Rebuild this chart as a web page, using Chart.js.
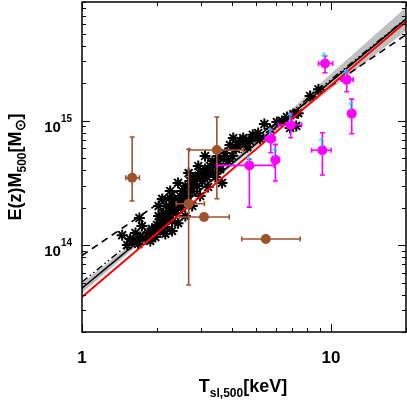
<!DOCTYPE html>
<html>
<head>
<meta charset="utf-8">
<script src="https://cdn.jsdelivr.net/npm/chart.js@4"></script>
<style>
  body { margin: 0; background: #fff; }
  #wrap { width: 407px; height: 407px; }
</style>
</head>
<body>
<div id="wrap"><canvas id="mtChart" width="407" height="407"></canvas></div>
<script>
// --- data ---
// simulated clusters (black asterisks): T [keV], E(z)M500 [Msun]
const starT = [1.52, 1.61, 1.68, 1.71, 1.80, 1.845, 1.88, 1.91, 1.97, 2.00, 2.06, 2.03, 2.10, 2.12, 2.16, 2.18, 2.22, 2.26, 2.30, 2.30,
               2.35, 2.39, 2.43, 2.48, 2.53, 2.55, 2.60, 2.65, 2.72, 2.77, 2.85, 2.90, 2.98, 3.04, 3.12, 3.18, 3.27, 3.34, 3.37, 3.43,
               3.53, 3.59, 3.65, 3.76, 3.86, 3.93, 4.01, 4.16, 4.32, 4.44, 4.61, 4.73, 4.92, 5.10, 5.40, 5.69, 6.06, 6.36, 6.65, 7.06,
               7.38, 7.25, 8.90, 8.24, 1.45, 1.70, 2.16, 2.30, 2.43, 2.60, 2.77, 2.98, 3.21, 3.43, 2.03, 2.10, 2.26, 2.43, 2.68, 2.93,
               3.12, 1.74, 1.64, 1.56, 6.85, 5.19, 4.05,
               1.95, 2.08, 2.20, 2.33, 2.45, 2.58, 2.70, 2.82, 3.00, 3.25, 3.50, 3.70, 4.20, 4.55, 4.85, 2.25, 2.50, 2.62];
const starM = [1.00e14, 1.08e14, 1.02e14, 1.16e14, 1.12e14, 1.25e14, 1.08e14, 1.35e14, 1.16e14, 1.45e14, 1.30e14, 1.71e14, 1.56e14, 1.81e14, 1.40e14, 2.06e14, 1.68e14, 1.88e14, 1.56e14, 2.14e14,
               2.35e14, 1.81e14, 2.06e14, 2.48e14, 2.72e14, 2.26e14, 2.98e14, 2.48e14, 3.27e14, 2.72e14, 3.52e14, 2.98e14, 3.79e14, 3.27e14, 4.08e14, 3.52e14, 4.32e14, 4.74e14, 3.79e14, 4.57e14,
               5.20e14, 4.08e14, 3.16e14, 5.50e14, 4.74e14, 6.37e14, 5.20e14, 5.92e14, 6.87e14, 7.26e14, 6.14e14, 6.87e14, 7.40e14, 7.96e14, 9.40e14, 8.57e14, 9.76e14, 9.95e14, 1.07e15, 1.13e15,
               1.15e15, 9.07e14, 1.79e15, 1.58e15, 1.20e14, 1.65e14, 1.23e14, 1.30e14, 1.50e14, 1.71e14, 2.06e14, 2.48e14, 2.93e14, 3.52e14, 2.06e14, 2.35e14, 2.72e14, 3.16e14, 3.79e14, 4.32e14,
               5.20e14, 1.42e14, 1.25e14, 1.12e14, 8.73e14, 7.13e14, 7.26e14,
               1.28e14, 1.50e14, 1.62e14, 1.95e14, 2.25e14, 2.55e14, 2.85e14, 3.10e14, 3.45e14, 3.90e14, 4.50e14, 4.95e14, 6.40e14, 7.00e14, 7.70e14, 2.40e14, 2.00e14, 2.30e14];

// brown points with error bars
const brownT    = [1.59, 3.48, 2.68, 3.09, 5.47];
const brownM    = [3.48e14, 5.81e14, 2.15e14, 1.68e14, 1.12e14];
const brownTLo  = [1.50, 2.69, 2.39, 2.46, 4.38];
const brownTHi  = [1.70, 4.44, 3.10, 3.90, 7.52];
const brownMLo  = [2.26e14, 2.36e14, 4.77e13, null, null];
const brownMHi  = [7.40e14, 1.07e15, 5.90e14, null, null];

// magenta points with error bars and cyan arrows
const magT      = [4.70, 5.73, 5.98, 6.89, 9.23, 9.46, 11.56, 12.11];
const magM      = [4.37e14, 7.17e14, 4.85e14, 9.23e14, 5.78e14, 2.88e15, 2.14e15, 1.14e15];
const magTLo    = [3.49, 5.44, 5.78, 6.14, 8.36, 8.91, 11.02, 11.74];
const magTHi    = [5.92, 5.96, 6.20, 7.62, 10.0, 10.15, 12.27, 12.49];
const magMLo    = [2.02e14, 5.53e14, 3.27e14, 7.30e14, 3.66e14, 2.43e15, 1.71e15, 7.86e14];
const magMHi    = [4.90e14, 8.53e14, 6.45e14, 1.14e15, 8.00e14, 3.31e15, 2.51e15, 1.49e15];
const arrowTop  = [5.2e14, 8.8e14, 6.07e14, 1.16e15, 7.3e14, 3.52e15, 2.59e15, 1.42e15];

// fitted relations (end points)
const fitT      = [1, 20];
const fitBlack  = [4.50e13, 6.55e15];
const fitRed    = [3.82e13, 6.25e15];
const fitDashed = [8.24e13, 4.91e15];
const fitDotDash = [5.04e13, 6.62e15];

// confidence band on the black fit
const bandT  = [1, 2, 3.5, 6, 10, 20];
const bandHi = [4.94e13, 1.49e14, 3.74e14, 9.48e14, 2.38e15, 8.15e15];
const bandLo = [4.11e13, 1.36e14, 3.49e14, 8.26e14, 1.80e15, 5.26e15];

// axes
const xMin = 1, xMax = 20, yMin = 2e13, yMax = 9e15;
const xMajor = [1, 10];
const xLabels = ['1', '10'];
const yMajor = [1e14, 1e15];
const yExpLabels = ['14', '15'];

const FONT = '"Liberation Sans", Arial, Helvetica, sans-serif';
const BROWN = '#A0522D';
const MAGENTA = '#FF00FF';
const CYAN = '#00E5FF';

const zip = (xs, ys) => xs.map((x, i) => ({ x: x, y: ys[i] }));

// error bars drawn just below the circles of their dataset
const errorBars = {
    id: 'errorBars',
    beforeDatasetDraw(chart, args) {
        const ds = chart.data.datasets[args.index];
        if (!ds.errs) return;
        const sx = chart.scales.x, sy = chart.scales.y, ctx = chart.ctx;
        const cap = 2.5;
        ctx.save();
        ctx.strokeStyle = ds.borderColor;
        ctx.lineWidth = 1.6;
        ds.data.forEach((p, i) => {
            const e = ds.errs;
            const px = sx.getPixelForValue(p.x), py = sy.getPixelForValue(p.y);
            ctx.beginPath();
            if (e.tlo[i] != null) {
                const a = sx.getPixelForValue(e.tlo[i]), b = sx.getPixelForValue(e.thi[i]);
                ctx.moveTo(a, py); ctx.lineTo(b, py);
                ctx.moveTo(a, py - cap); ctx.lineTo(a, py + cap);
                ctx.moveTo(b, py - cap); ctx.lineTo(b, py + cap);
            }
            if (e.mlo[i] != null) {
                const a = sy.getPixelForValue(e.mlo[i]), b = sy.getPixelForValue(e.mhi[i]);
                ctx.moveTo(px, a); ctx.lineTo(px, b);
                ctx.moveTo(px - cap, a); ctx.lineTo(px + cap, a);
                ctx.moveTo(px - cap, b); ctx.lineTo(px + cap, b);
            }
            ctx.stroke();
        });
        ctx.restore();
    }
};

// small cyan arrows (lower limits) on the magenta points
const arrows = {
    id: 'arrows',
    afterDatasetsDraw(chart) {
        const sx = chart.scales.x, sy = chart.scales.y, ctx = chart.ctx;
        ctx.save();
        ctx.strokeStyle = CYAN;
        ctx.lineWidth = 1;
        magT.forEach((t, i) => {
            const px = sx.getPixelForValue(t) - 1;
            const py = sy.getPixelForValue(magM[i]) - 3;
            const top = sy.getPixelForValue(arrowTop[i]);
            ctx.beginPath();
            ctx.moveTo(px, py); ctx.lineTo(px, top);
            ctx.moveTo(px - 2.5, top + 3.5); ctx.lineTo(px, top); ctx.lineTo(px + 2.5, top + 3.5);
            ctx.stroke();
        });
        ctx.restore();
    }
};

function richText(ctx, parts, x, y, align) {
    let w = 0;
    parts.forEach(p => { ctx.font = 'bold ' + p[1] + 'px ' + FONT; w += ctx.measureText(p[0]).width; });
    let cx = align === 'right' ? x - w : x - w / 2;
    parts.forEach(p => {
        ctx.font = 'bold ' + p[1] + 'px ' + FONT;
        ctx.fillText(p[0], cx, y + p[2]);
        cx += ctx.measureText(p[0]).width;
    });
}

// frame, inward ticks on all four sides, labels and titles
const frame = {
    id: 'frame',
    afterDraw(chart) {
        const { left, right, top, bottom } = chart.chartArea;
        const sx = chart.scales.x, sy = chart.scales.y, ctx = chart.ctx;
        ctx.save();
        ctx.strokeStyle = '#000';
        ctx.lineWidth = 1.5;
        ctx.strokeRect(left, top, right - left, bottom - top);

        ctx.lineWidth = 1;
        ctx.beginPath();
        for (let d = 1; d <= 10; d *= 10) {
            for (let k = 1; k <= 9; k++) {
                const v = k * d;
                if (v < xMin || v > xMax) continue;
                const len = k === 1 ? 8 : 4;
                const p = Math.round(sx.getPixelForValue(v)) + 0.5;
                ctx.moveTo(p, bottom); ctx.lineTo(p, bottom - len);
                ctx.moveTo(p, top); ctx.lineTo(p, top + len);
            }
        }
        for (let d = 1e13; d <= 1e15; d *= 10) {
            for (let k = 1; k <= 9; k++) {
                const v = k * d;
                if (v < yMin || v > yMax) continue;
                const len = k === 1 ? 8 : 4;
                const p = Math.round(sy.getPixelForValue(v)) + 0.5;
                ctx.moveTo(left, p); ctx.lineTo(left + len, p);
                ctx.moveTo(right, p); ctx.lineTo(right - len, p);
            }
        }
        ctx.stroke();

        ctx.fillStyle = '#000';
        ctx.textBaseline = 'alphabetic';
        xMajor.forEach((v, i) => {
            richText(ctx, [[xLabels[i], 17, 0]], sx.getPixelForValue(v), 363, 'center');
        });
        yMajor.forEach((v, i) => {
            const p = sy.getPixelForValue(v);
            richText(ctx, [['10', 15, 11], [yExpLabels[i], 10, 1]], 72, p, 'right');
        });

        // x title
        richText(ctx, [['T', 18, 0], ['sl,500', 12, 5], ['[keV]', 18, 0]], 243, 392, 'center');

        // y title
        ctx.translate(21, 167);
        ctx.rotate(-Math.PI / 2);
        richText(ctx, [['E(z)M', 18, 0], ['500', 12, 5], ['[M', 18, 0], ['\u2299', 14, 4], [']', 18, 0]], 0, 0, 'center');
        ctx.restore();
    }
};

const lineDs = (label, ys, color, width, dash, order) => ({
    type: 'line', label: label, data: zip(fitT, ys),
    borderColor: color, borderWidth: width, borderDash: dash,
    pointRadius: 0, fill: false, tension: 0, order: order
});

new Chart(document.getElementById('mtChart'), {
    type: 'scatter',
    data: {
        datasets: [
            { type: 'line', label: 'bandHi', data: zip(bandT, bandHi), borderWidth: 0, pointRadius: 0,
              backgroundColor: '#C0C0C0', fill: '+1', tension: 0, order: 20 },
            { type: 'line', label: 'bandLo', data: zip(bandT, bandLo), borderWidth: 0, pointRadius: 0,
              fill: false, tension: 0, order: 19 },
            { label: 'stars', data: zip(starT, starM), pointStyle: 'star', pointRadius: 5.5,
              borderColor: '#000', borderWidth: 2, backgroundColor: '#000', order: 15 },
            lineDs('dashed', fitDashed, '#000', 1.6, [7, 5], 10),
            lineDs('dotdash', fitDotDash, '#000', 1.4, [7, 3, 1.5, 3, 1.5, 3], 9),
            lineDs('black', fitBlack, '#000', 1.6, [], 8),
            lineDs('red', fitRed, '#FF0000', 2, [], 7),
            { label: 'brown', data: zip(brownT, brownM), pointStyle: 'circle', pointRadius: 5,
              backgroundColor: BROWN, borderColor: BROWN, borderWidth: 0, order: 3,
              errs: { tlo: brownTLo, thi: brownTHi, mlo: brownMLo, mhi: brownMHi } },
            { label: 'magenta', data: zip(magT, magM), pointStyle: 'circle', pointRadius: 5,
              backgroundColor: MAGENTA, borderColor: MAGENTA, borderWidth: 0, order: 2,
              errs: { tlo: magTLo, thi: magTHi, mlo: magMLo, mhi: magMHi } }
        ]
    },
    options: {
        responsive: false,
        animation: false,
        layout: { autoPadding: false, padding: { left: 82, right: 1, top: 2, bottom: 75 } },
        scales: {
            x: { type: 'logarithmic', min: xMin, max: xMax, display: false },
            y: { type: 'logarithmic', min: yMin, max: yMax, display: false }
        },
        plugins: {
            legend: { display: false },
            tooltip: { enabled: false }
        }
    },
    plugins: [errorBars, arrows, frame]
});
</script>
</body>
</html>
